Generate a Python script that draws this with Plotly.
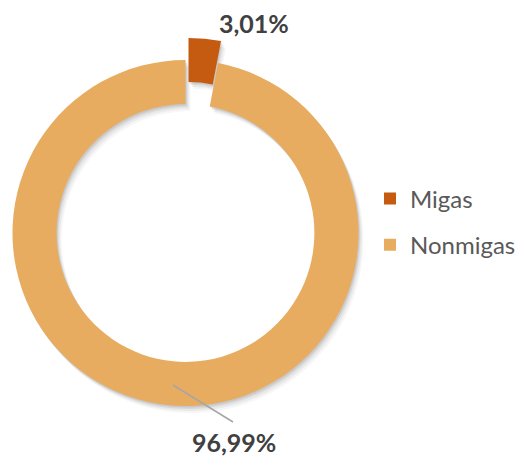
import plotly.graph_objects as go

LABELS = ["Migas", "Nonmigas"]
VALUES = [3.01, 96.99]
COLORS = ["#C55A11", "#E8AC60"]

TEXT_COLOR = "#404040"
LEGEND_COLOR = "#595959"
W, H = 526, 458
OFF = 8  # the page body margin shifts the figure by this many pixels

# ring geometry in page pixels (centre, outer radius) and offset of the exploded slice
CX, CY, R = 185.5, 233, 173
EXPLODE = (3, -22)
HOLE = 0.745
CLEAR = "rgba(0,0,0,0)"


def px(x):
    return (x - OFF) / W


def py(y):
    return 1 - (y - OFF) / H


def dom(cx, cy, r):
    return dict(x=[px(cx - r), px(cx + r)], y=[py(cy + r), py(cy - r)])


def pie(colors, domain):
    return go.Pie(
        labels=LABELS, values=VALUES, hole=HOLE, sort=False,
        direction="clockwise", rotation=0, textinfo="none",
        marker=dict(colors=colors, line=dict(width=0)),
        domain=domain, hoverinfo="label+percent", showlegend=False,
    )


fig = go.Figure()

# legend-only entries (tiny pies hidden below the ring)
for i, (lab, val, col) in enumerate(zip(LABELS, VALUES, COLORS)):
    fig.add_trace(go.Pie(
        labels=[lab], values=[val], marker=dict(colors=[col]), textinfo="none",
        sort=False, legendgroup=f"g{i}", showlegend=True,
        domain=dom(CX - R + 15, CY, 1), hoverinfo="skip",
    ))

# soft drop shadow (bottom-right)
for dx, dy, a in [(5, 7, 0.035), (3.5, 5, 0.05), (2, 3, 0.07), (1, 1.5, 0.07)]:
    fig.add_trace(pie([CLEAR, f"rgba(0,0,0,{a})"], dom(CX + dx, CY + dy, R)))
    fig.add_trace(pie([f"rgba(0,0,0,{a})", CLEAR],
                      dom(CX + EXPLODE[0] + dx, CY + EXPLODE[1] + dy, R)))

# main ring (big slice) and exploded small slice
fig.add_trace(pie([CLEAR, COLORS[1]], dom(CX, CY, R)))
fig.add_trace(pie([COLORS[0], CLEAR], dom(CX + EXPLODE[0], CY + EXPLODE[1], R)))

# value labels in the reference's placement (page pixels)
label_pos = {"Migas": (253.5, 23.5), "Nonmigas": (234, 442)}
for lab, val in zip(LABELS, VALUES):
    x, y = label_pos[lab]
    fig.add_annotation(
        x=px(x), y=py(y), xref="paper", yref="paper",
        text="<b>" + f"{val:.2f}".replace(".", ",") + "%</b>",
        showarrow=False, font=dict(size=25, color=TEXT_COLOR),
        xanchor="center", yanchor="middle",
    )

# leader line for the big slice
fig.add_shape(
    type="line", xref="paper", yref="paper",
    x0=px(173), y0=py(385), x1=px(233), y1=py(422),
    line=dict(color="#A6A6A6", width=1.5),
)

fig.update_layout(
    width=W,
    height=H,
    margin=dict(l=0, r=0, t=0, b=0),
    paper_bgcolor="white",
    plot_bgcolor="white",
    font=dict(family="Lato, sans-serif", color=LEGEND_COLOR),
    showlegend=True,
    legend=dict(
        x=px(370), y=py(222), xanchor="left", yanchor="middle",
        font=dict(size=24, color=LEGEND_COLOR),
        itemwidth=30, tracegroupgap=12,
    ),
)

fig.write_html("out.html")
